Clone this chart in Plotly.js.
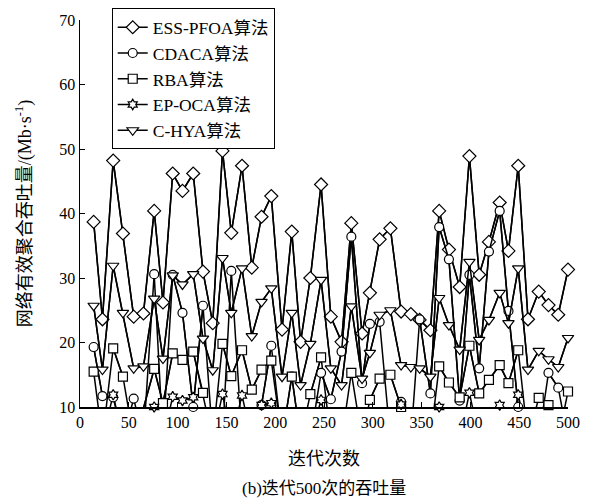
<!DOCTYPE html>
<html>
<head>
<meta charset="utf-8">
<script src="https://cdn.plot.ly/plotly-3.0.1.min.js"></script>
<style>html,body{margin:0;padding:0;background:#fff}#chart{width:592px;height:499px}</style>
</head>
<body>
<div id="chart"></div>
<script>
// iteration numbers (shared by all series)
const iterations = [14,23,34,44,55,65,76,85,95,105,116,126,136,146,155,166,176,186,196,207,217,226,236,247,257,268,278,289,297,307,318,329,339,348,359,368,378,389,399,409,419,430,439,449,459,470,480,490,500];

const essPfoa = [38.7,23.6,48.2,36.9,24.0,24.5,40.4,26.2,46.2,43.5,46.2,31.0,23.0,49.7,37.0,47.4,31.6,39.5,42.7,22.0,37.2,20.1,30.0,44.5,24.0,20.1,38.5,21.4,27.7,36.0,37.7,24.8,24.4,23.5,21.9,40.4,34.4,28.6,48.9,30.5,35.6,41.7,34.2,47.4,23.6,27.9,25.8,24.3,31.3];

const cdaca = [19.3,11.7,11.5,5,11.3,5,30.6,5,30.5,24.6,10.0,25.7,5,5,31.1,5,5,10.3,19.5,5,14.7,5,5,15.3,11.2,18.6,36.4,13.7,22.9,23.2,5,10.8,5,23.6,12.1,37.9,32.9,11.0,30.5,16.0,34.1,40.4,24.9,10.0,5,5,15.3,13.0,5];

const rba = [15.5,5,19.1,14.7,5,9.8,15.9,10.6,18.3,17.3,18.6,12.2,5,19.8,14.8,18.8,12.7,15.8,17.2,5,14.7,5,12.0,17.7,5,5,15.3,5,11.1,14.4,15.0,10.0,5,5,5,16.3,13.8,11.5,19.5,12.1,14.2,16.5,13.7,18.8,5,11.4,10.3,5,12.4];

const epOca = [5,5,11.9,5,5,5,10.0,5,11.6,11.0,11.5,5,5,12.0,5,11.8,5,10.3,10.6,5,5,5,5,11.1,5,5,5,5,5,5,5,10.4,5,5,5,10.0,5,5,12.2,5,5,10.3,5,11.9,5,5,5,5,5];

const cHya = [25.7,15.8,31.9,24.6,16.0,16.3,26.8,17.5,30.4,29.0,30.6,20.6,15.7,33.1,24.6,31.5,21.0,26.3,28.4,14.7,24.6,13.4,19.8,29.7,16.0,13.4,25.6,14.4,18.4,24.3,25.0,16.5,16.2,16.0,14.7,26.9,22.7,18.9,32.5,20.4,23.5,27.7,23.0,31.5,15.8,18.7,17.4,16.2,20.7];

const seriesNames = ['ESS-PFOA算法','CDACA算法','RBA算法','EP-OCA算法','C-HYA算法'];
const seriesData = [essPfoa, cdaca, rba, epOca, cHya];
const symbols = ['diamond','circle','square','hexagram','triangle-down'];
const sizes = [10,9,9,8,10];

const yMin = 10, yMax = 70;
const lineStyle = {color: '#000', width: 1.5};

// full lines (dips below the axis are clipped by the plot area)
const lineTraces = seriesData.map((vals, i) => ({
  x: iterations, y: vals, type: 'scatter', mode: 'lines',
  line: lineStyle, showlegend: false, hoverinfo: 'skip'
}));
// markers for the points that lie inside the axis range (not clipped at the axis)
const markerTraces = seriesData.map((vals, i) => ({
  x: iterations,
  y: vals.map(v => v < yMin - 0.5 ? null : v),
  name: seriesNames[i],
  type: 'scatter', mode: 'lines+markers', connectgaps: false,
  cliponaxis: false,
  line: lineStyle,
  marker: {symbol: symbols[i], size: sizes[i], color: '#fff', line: {color: '#000', width: 1.2}}
}));

const font = 'Liberation Serif, Times New Roman, Noto Sans CJK SC, serif';

const layout = {
  width: 592, height: 499,
  margin: {l: 80, r: 24, t: 20, b: 92, autoexpand: false},
  paper_bgcolor: '#fff', plot_bgcolor: '#fff',
  showlegend: true,
  font: {family: font, size: 16, color: '#000'},
  legend: {
    x: 0.065, y: 1.03, xanchor: 'left', yanchor: 'top',
    bgcolor: '#fff', bordercolor: '#000', borderwidth: 1,
    font: {family: font, size: 17.5, color: '#000'},
    tracegroupgap: 0
  },
  xaxis: {
    range: [0, 500], dtick: 50, tick0: 0,
    showline: true, linecolor: '#000', linewidth: 1.5,
    ticks: 'inside', ticklen: 5, tickcolor: '#000',
    showgrid: false, zeroline: false, mirror: false,
    tickfont: {family: font, size: 16, color: '#000'},
    title: {text: '迭代次数', font: {family: font, size: 18, color: '#000'}, standoff: 22}
  },
  yaxis: {
    range: [yMin, yMax], dtick: 10,
    showline: true, linecolor: '#000', linewidth: 1.5,
    ticks: 'inside', ticklen: 5, tickcolor: '#000',
    showgrid: false, zeroline: false, mirror: false,
    tickfont: {family: font, size: 16, color: '#000'},
    title: {text: '网络有效聚合吞吐量/(Mb·s<sup>-1</sup>)', font: {family: font, size: 18, color: '#000'}, standoff: 23}
  },
  annotations: [{
    text: '(b)迭代500次的吞吐量', xref: 'paper', yref: 'paper',
    x: 0.5, y: 0, yshift: -70, xanchor: 'center', yanchor: 'top',
    showarrow: false, font: {family: font, size: 17, color: '#000'}
  }]
};

Plotly.newPlot('chart', lineTraces.concat(markerTraces), layout, {displayModeBar: false, staticPlot: true});
</script>
</body>
</html>
